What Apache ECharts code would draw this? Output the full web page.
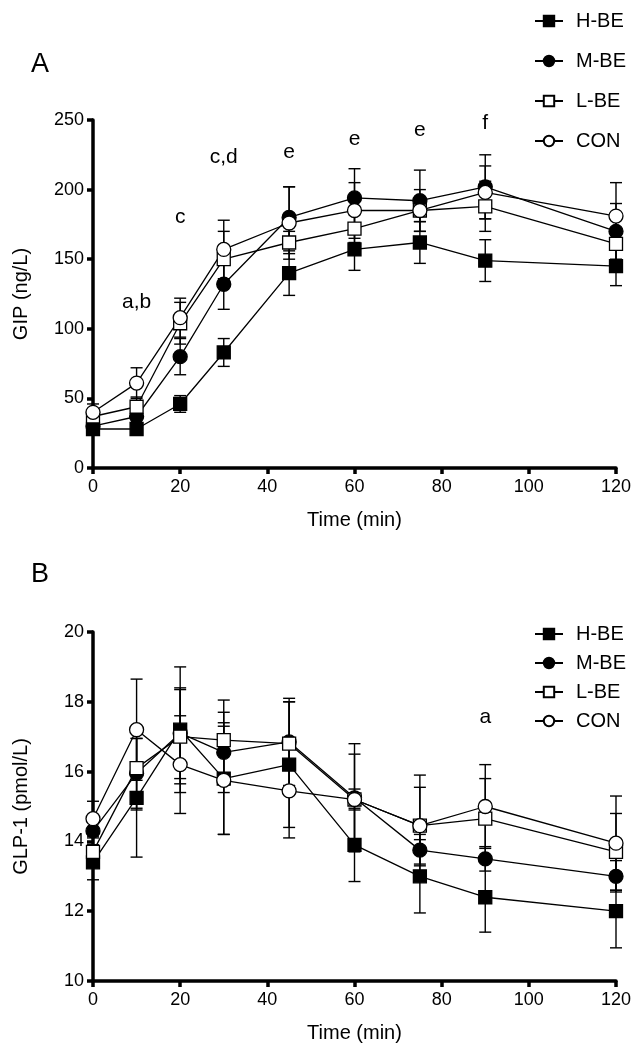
<!DOCTYPE html>
<html><head><meta charset="utf-8">
<script src="https://cdn.jsdelivr.net/npm/echarts@6/dist/echarts.min.js"></script>
<style>html,body{margin:0;padding:0;background:#fff}#c{width:643px;height:1056px}</style>
</head><body><div id="c"></div>
<script>
const times = [0, 10, 20, 30, 45, 60, 75, 90, 120];
const groups = ['H-BE', 'M-BE', 'L-BE', 'CON'];
const xTicks = [0, 20, 40, 60, 80, 100, 120];

// Panel A: GIP (ng/L)
const gipH = [28, 28, 46, 83, 140, 157, 162, 149, 145];
const gipHErr = [3, 3, 6, 10, 16, 15, 15, 15, 14];
const gipM = [30, 37, 80, 132, 180, 194, 192, 202, 170];
const gipMErr = [4, 5, 13, 18, 22, 21, 22, 23, 20];
const gipL = [37, 44, 104, 150, 162, 172, 185, 188, 161];
const gipLErr = [5, 7, 15, 20, 8, 10, 8, 18, 20];
const gipC = [40, 61, 108, 157, 176, 185, 185, 198, 181];
const gipCErr = [6, 11, 14, 21, 26, 20, 15, 19, 24];
const gipAnnotX = [10, 20, 30, 45, 60, 75, 90];
const gipAnnotY = [119, 180, 223, 227, 236, 243, 248];
const gipAnnotText = ['a,b', 'c', 'c,d', 'e', 'e', 'e', 'f'];

// Panel B: GLP-1 (pmol/L)
const glpH = [13.4, 15.25, 17.2, 15.8, 16.2, 13.9, 13.0, 12.4, 12.0];
const glpHErr = [0.5, 1.7, 1.8, 1.6, 1.8, 1.05, 1.05, 1.0, 1.05];
const glpM = [14.3, 15.95, 17.1, 16.55, 16.85, 15.25, 13.75, 13.5, 13.0];
const glpMErr = [0.4, 1.0, 1.3, 1.15, 1.25, 1.55, 0.45, 0.35, 0.45];
const glpL = [13.7, 16.1, 17.0, 16.9, 16.8, 15.2, 14.45, 14.65, 13.7];
const glpLErr = [0.4, 1.2, 1.35, 1.15, 1.2, 1.3, 1.45, 1.15, 1.1];
const glpC = [14.65, 17.2, 16.2, 15.75, 15.45, 15.2, 14.45, 15.0, 13.95];
const glpCErr = [0.5, 1.45, 1.4, 1.55, 1.35, 0.3, 1.1, 1.2, 1.35];
const glpAnnotX = [90];
const glpAnnotY = [17.55];
const glpAnnotText = ['a'];

const FONT = 'Liberation Sans, Arial, sans-serif';
const symbols = {'H-BE': ['rect', '#000'], 'M-BE': ['circle', '#000'], 'L-BE': ['rect', '#fff'], 'CON': ['circle', '#fff']};

function lineSeries(name, vals, idx) {
  const s = symbols[name];
  return {
    type: 'line', name: name, xAxisIndex: idx, yAxisIndex: idx,
    data: times.map((t, i) => [t, vals[i]]),
    symbol: s[0], symbolSize: s[0] === 'rect' ? 13 : 14,
    itemStyle: {color: s[1], borderColor: '#000', borderWidth: 1.3},
    lineStyle: {color: '#000', width: 1.3},
    z: 5, animation: false
  };
}
function errSeries(name, vals, errs, idx) {
  return {
    type: 'custom', name: name + ' err', xAxisIndex: idx, yAxisIndex: idx,
    data: times.map((t, i) => [t, vals[i], errs[i]]),
    encode: {x: 0, y: 1},
    z: 3, animation: false, silent: true,
    renderItem: function (params, api) {
      const x = api.value(0), y = api.value(1), e = api.value(2);
      const top = api.coord([x, y + e]);
      const bot = api.coord([x, y - e]);
      const w = 6;
      const st = {stroke: '#000', lineWidth: 1.4, fill: null};
      return {type: 'group', children: [
        {type: 'line', shape: {x1: top[0], y1: top[1], x2: bot[0], y2: bot[1]}, style: st},
        {type: 'line', shape: {x1: top[0] - w, y1: top[1], x2: top[0] + w, y2: top[1]}, style: st},
        {type: 'line', shape: {x1: bot[0] - w, y1: bot[1], x2: bot[0] + w, y2: bot[1]}, style: st}
      ]};
    }
  };
}
function annotSeries(xs, ys, texts, idx) {
  return {
    type: 'scatter', xAxisIndex: idx, yAxisIndex: idx, symbolSize: 0, silent: true,
    data: xs.map((x, i) => [x, ys[i], texts[i]]),
    itemStyle: {opacity: 1, color: '#000'},
    label: {show: true, position: 'inside', formatter: p => p.data[2], color: '#000', fontSize: 21, fontFamily: FONT},
    animation: false, z: 6
  };
}

function xAxis(idx) {
  return {
    gridIndex: idx, type: 'value', min: 0, max: 120, interval: 20,
    name: 'Time (min)', nameLocation: 'middle', nameGap: 42,
    nameTextStyle: {fontSize: 20, color: '#000', fontFamily: FONT},
    axisLine: {lineStyle: {color: '#000', width: 3.5}},
    axisTick: {length: 6, lineStyle: {color: '#000', width: 3.5}},
    axisLabel: {fontSize: 18, color: '#000', margin: 10, fontFamily: FONT},
    splitLine: {show: false}
  };
}
function yAxis(idx, name, min, max, interval) {
  return {
    gridIndex: idx, type: 'value', min: min, max: max, interval: interval,
    name: name, nameLocation: 'middle', nameGap: 62,
    nameTextStyle: {fontSize: 20, color: '#000', fontFamily: FONT},
    axisLine: {show: true, lineStyle: {color: '#000', width: 3.5}},
    axisTick: {show: true, length: 6, lineStyle: {color: '#000', width: 3.5}},
    axisLabel: {fontSize: 18, color: '#000', margin: 9, fontFamily: FONT},
    splitLine: {show: false}
  };
}
function legend(top, gap) {
  return {
    data: groups, orient: 'vertical', left: 529, top: top, itemGap: gap,
    itemWidth: 28, itemHeight: 13,
    textStyle: {fontSize: 20, color: '#000', fontFamily: FONT, padding: [0, 0, 0, 8]},
    selectedMode: false
  };
}

const chart = echarts.init(document.getElementById('c'), null, {renderer: 'canvas'});
chart.setOption({
  animation: false,
  backgroundColor: '#fff',
  title: [
    {text: 'A', left: 26, top: 46, textStyle: {fontSize: 27, fontWeight: 'normal', color: '#000', fontFamily: FONT}},
    {text: 'B', left: 26, top: 556, textStyle: {fontSize: 27, fontWeight: 'normal', color: '#000', fontFamily: FONT}}
  ],
  legend: [legend(6, 20), legend(619, 9)],
  grid: [
    {left: 93, right: 27, top: 120, height: 348},
    {left: 93, right: 27, top: 632, height: 349}
  ],
  xAxis: [xAxis(0), xAxis(1)],
  yAxis: [yAxis(0, 'GIP (ng/L)', 0, 250, 50), yAxis(1, 'GLP-1 (pmol/L)', 10, 20, 2)],
  series: [
    lineSeries('H-BE', gipH, 0), lineSeries('M-BE', gipM, 0),
    lineSeries('L-BE', gipL, 0), lineSeries('CON', gipC, 0),
    errSeries('H-BE', gipH, gipHErr, 0), errSeries('M-BE', gipM, gipMErr, 0),
    errSeries('L-BE', gipL, gipLErr, 0), errSeries('CON', gipC, gipCErr, 0),
    annotSeries(gipAnnotX, gipAnnotY, gipAnnotText, 0),
    lineSeries('H-BE', glpH, 1), lineSeries('M-BE', glpM, 1),
    lineSeries('L-BE', glpL, 1), lineSeries('CON', glpC, 1),
    errSeries('H-BE', glpH, glpHErr, 1), errSeries('M-BE', glpM, glpMErr, 1),
    errSeries('L-BE', glpL, glpLErr, 1), errSeries('CON', glpC, glpCErr, 1),
    annotSeries(glpAnnotX, glpAnnotY, glpAnnotText, 1)
  ]
});
</script></body></html>
